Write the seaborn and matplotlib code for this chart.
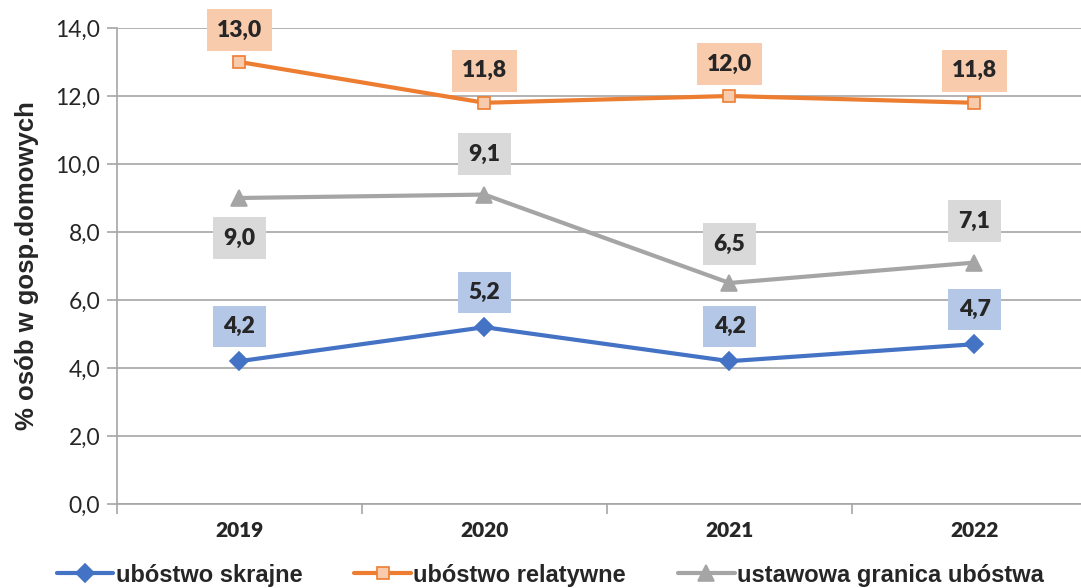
import seaborn as sns
import matplotlib.pyplot as plt
import pandas as pd
from matplotlib.ticker import FuncFormatter, FixedLocator

years = ["2019", "2020", "2021", "2022"]
skrajne = [4.2, 5.2, 4.2, 4.7]
relatywne = [13.0, 11.8, 12.0, 11.8]
ustawowa = [9.0, 9.1, 6.5, 7.1]

names = ["ubóstwo skrajne", "ubóstwo relatywne", "ustawowa granica ubóstwa"]
line_colors = ["#4472C4", "#ED7D31", "#A5A5A5"]
box_colors = ["#B4C7E7", "#F8CBAD", "#D9D9D9"]
# label offsets in points (positive = above)
offsets = [
    [25, 25, 25, 25],
    [23, 23, 23, 23],
    [-29, 29, 28, 30],
]

sns.set_style("white")
plt.rcParams["font.family"] = ["Liberation Sans", "DejaVu Sans"]

fig = plt.figure(figsize=(10.81, 5.88), dpi=100)
ax = fig.add_axes([0.1082, 0.1429, 0.9066, 0.8095])

series = [skrajne, relatywne, ustawowa]
markers = ["D", "s", "^"]
msizes = [9, 9, 11]
for vals, name, lc, bc, mk, ms in zip(series, names, line_colors, box_colors, markers, msizes):
    df = pd.DataFrame({"rok": years, "val": vals})
    mface = bc if mk == "s" else lc
    sns.lineplot(data=df, x="rok", y="val", ax=ax, color=lc, linewidth=3,
                 marker=mk, markersize=ms, markerfacecolor=mface,
                 markeredgecolor=lc, markeredgewidth=1.2, label=name, zorder=3)

for vals, bc, offs in zip(series, box_colors, offsets):
    for i, v in enumerate(vals):
        ax.annotate(f"{v:.1f}".replace(".", ","), (i, v), xytext=(0, offs[i]),
                    textcoords="offset points", ha="center", va="center",
                    fontsize=16.5, fontweight="heavy", family="Lato",
                    bbox=dict(boxstyle="square,pad=0.45", fc=bc, ec="none"),
                    zorder=4)

ax.set_xlim(-0.5, 3.5)
ax.set_ylim(0, 14)
ax.yaxis.set_major_locator(FixedLocator([0, 2, 4, 6, 8, 10, 12, 14]))
ax.yaxis.set_major_formatter(FuncFormatter(lambda v, p: f"{v:.1f}".replace(".", ",")))
ax.grid(axis="y", color="#A6A6A6", linewidth=1.2)
ax.set_axisbelow(True)

for s in ["top", "right"]:
    ax.spines[s].set_visible(False)
for s in ["left", "bottom"]:
    ax.spines[s].set_color("#A6A6A6")
    ax.spines[s].set_linewidth(1.2)

ax.tick_params(axis="y", which="major", length=7, color="#A6A6A6", width=1.2,
               labelsize=16.5, pad=5, left=True)
ax.tick_params(axis="x", which="major", length=0, labelsize=15, pad=12)
ax.set_xticks(range(len(years)))
ax.set_xticklabels(years, fontweight="heavy", family="Lato")
for t in ax.get_yticklabels():
    t.set_family("Lato")
ax.set_xticks([-0.5, 0.5, 1.5, 2.5, 3.5], minor=True)
ax.tick_params(axis="x", which="minor", length=7, color="#A6A6A6", width=1.2, bottom=True)

ax.set_xlabel("")
ax.set_ylabel("% osób w gosp.domowych", fontsize=18.5, fontweight="bold", labelpad=12)

ax.legend(loc="center", ncol=3, frameon=False,
          prop={"weight": "bold", "size": 17}, handlelength=2.4,
          handletextpad=0.1, columnspacing=2.2)
ax.get_legend().set_bbox_to_anchor((0.509, 0.022), transform=fig.transFigure)

fig.savefig("out.png", dpi=100)
